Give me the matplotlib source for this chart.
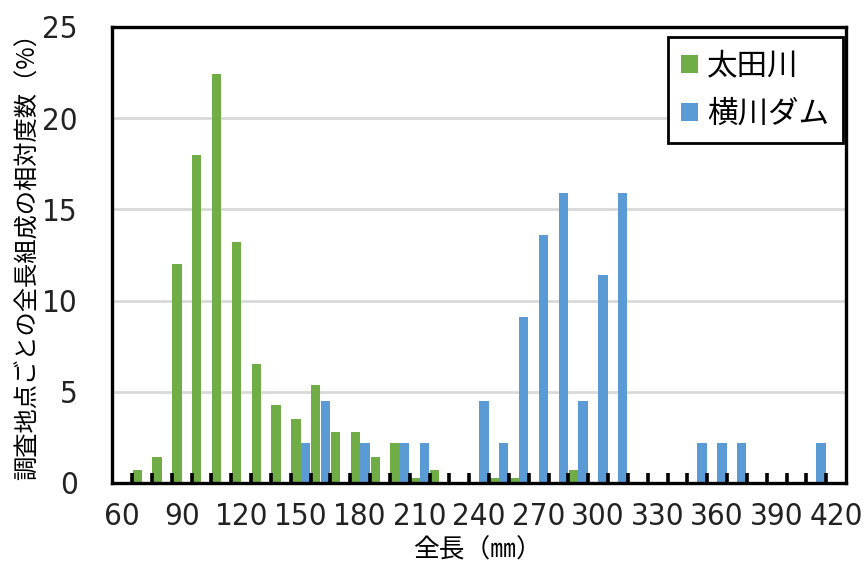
import matplotlib
matplotlib.use("Agg")
import matplotlib.pyplot as plt
from matplotlib import font_manager as fm
import numpy as np

# Length classes (mm) and relative frequency (%) per survey site
lengths = list(range(60, 430, 10))
ota_river = [0, 0.7, 1.4, 12.0, 18.0, 22.4, 13.2, 6.5, 4.3, 3.5,
             5.4, 2.8, 2.8, 1.4, 2.2, 0.25, 0.7, 0, 0, 0.25,
             0.25, 0, 0, 0.7, 0, 0, 0, 0, 0, 0,
             0, 0, 0, 0, 0, 0, 0]
yokogawa_dam = [0, 0, 0, 0, 0, 0, 0, 0, 0, 2.2,
                4.5, 0, 2.2, 0, 2.2, 2.2, 0, 0, 4.5, 2.2,
                9.1, 13.6, 15.9, 4.5, 11.4, 15.9, 0, 0, 0, 2.2,
                2.2, 2.2, 0, 0, 0, 2.2, 0]
series_names = ["太田川", "横川ダム"]
colors = ["#70AD47", "#5B9BD5"]
xtick_labels = list(range(60, 430, 30))
yticks = [0, 5, 10, 15, 20, 25]

# pick a narrow sans face for the numbers if one is installed
num_prop = None
for f in fm.fontManager.ttflist:
    stretch = str(f.stretch).lower()
    if ("narrow" in f.name.lower() or "condensed" in f.name.lower()
            or stretch in ("condensed", "semi-condensed", "extra-condensed")) \
            and f.style == "normal" and f.weight in (400, "normal", "regular"):
        num_prop = fm.FontProperties(fname=f.fname)
        break
if num_prop is None:
    num_prop = fm.FontProperties(family="Liberation Sans")
num_prop.set_size(22.5)
cjk = ["Noto Sans CJK JP", "DejaVu Sans"]

fig = plt.figure(figsize=(8.63, 5.67), dpi=100)
ax = fig.add_axes([112.3 / 863, 1 - 483 / 567, (846 - 112.3) / 863, (483 - 27) / 567])

x = np.array(lengths, dtype=float)
w = 4.75
ax.bar(x - 2.4, ota_river, width=w, color=colors[0], label=series_names[0], zorder=3)
ax.bar(x + 2.4, yokogawa_dam, width=w, color=colors[1], label=series_names[1], zorder=3)

ax.set_xlim(55, 425)
ax.set_ylim(0, 25)

# horizontal gridlines under the bars
for yv in yticks[1:-1]:
    ax.axhline(yv, color="#D9D9D9", linewidth=2, zorder=1)

ax.set_yticks(yticks)
ax.set_xticks(xtick_labels)
ax.set_xticks(np.arange(65, 420, 10), minor=True)
ax.tick_params(axis="x", which="major", length=0, pad=14)
ax.tick_params(axis="x", which="minor", direction="in", length=7, width=2.6,
               color="black", bottom=True)
ax.tick_params(axis="y", length=0, pad=25)
ax.xaxis.set_zorder(4)
for lab in ax.get_xticklabels() + ax.get_yticklabels():
    lab.set_fontproperties(num_prop)
    lab.set_color("#222222")

for sp in ax.spines.values():
    sp.set_linewidth(2.4)
    sp.set_color("black")
    sp.set_zorder(5)

fig.text(477 / 863, 1 - 551 / 567, "全長（㎜）", ha="center", va="center",
         fontsize=18.5, family=cjk)
fig.text(28 / 863, 1 - 251 / 567, "調査地点ごとの全長組成の相対度数（%）", ha="center", va="center",
         rotation=90, fontsize=17.5, family=cjk)

leg = ax.legend(loc="upper right", bbox_to_anchor=(843 / 863, 1 - 37 / 567),
                bbox_transform=fig.transFigure, borderaxespad=0,
                prop={"family": cjk, "size": 22}, handlelength=0.55, handleheight=0.55,
                handletextpad=0.3, labelspacing=0.55, borderpad=0.45,
                fancybox=False, framealpha=1, edgecolor="black")
leg.get_frame().set_linewidth(2)
leg.set_zorder(6)

fig.savefig("out.png", dpi=100)
